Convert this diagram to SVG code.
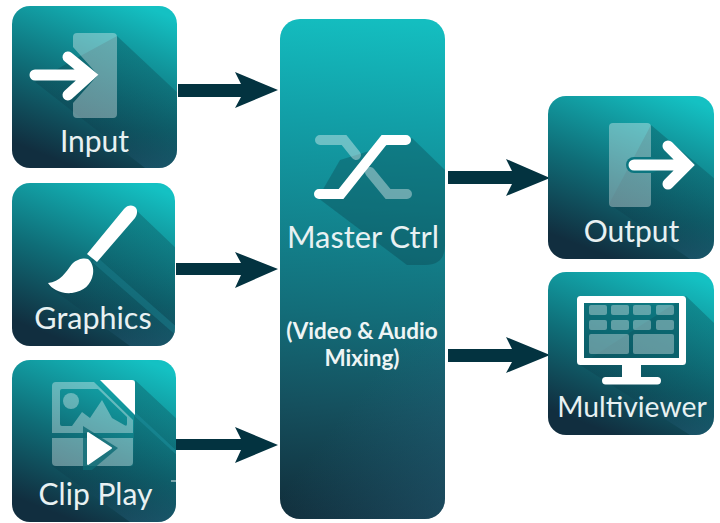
<svg xmlns="http://www.w3.org/2000/svg" width="720" height="523" viewBox="0 0 720 523">
<defs>
<linearGradient id="bg" x1="0.8" y1="0" x2="0.4" y2="1"><stop offset="0" stop-color="#14c1c3"/><stop offset="0.55" stop-color="#0f6e78"/><stop offset="1" stop-color="#112e3f"/></linearGradient>
<linearGradient id="bgm" gradientUnits="userSpaceOnUse" x1="385" y1="19" x2="345" y2="519"><stop offset="0" stop-color="#14bec0"/><stop offset="0.2" stop-color="#12a0a8"/><stop offset="0.6" stop-color="#136c78"/><stop offset="0.78" stop-color="#15505e"/><stop offset="1" stop-color="#112e3b"/></linearGradient>
<linearGradient id="ov" gradientUnits="userSpaceOnUse" x1="330" y1="430" x2="445" y2="519"><stop offset="0" stop-color="#2a6a88" stop-opacity="0"/><stop offset="1" stop-color="#2a6a88" stop-opacity=".4"/></linearGradient>
<linearGradient id="sh" x1="0" y1="0" x2="0" y2="1"><stop offset="0" stop-color="#07303a" stop-opacity="0.28"/><stop offset="0.7" stop-color="#0a3040" stop-opacity="0.2"/><stop offset="1" stop-color="#2a6a88" stop-opacity="0.35"/></linearGradient>
<clipPath id="c1"><rect x="12" y="6" width="165" height="162" rx="18"/></clipPath>
<clipPath id="c2"><rect x="12" y="183" width="163" height="163" rx="18"/></clipPath>
<clipPath id="c3"><rect x="12" y="360" width="164" height="162" rx="18"/></clipPath>
<clipPath id="c4"><rect x="548" y="96" width="166" height="163" rx="18"/></clipPath>
<clipPath id="c5"><rect x="548" y="272" width="166" height="163" rx="18"/></clipPath>
</defs>
<style>
.l{font-family:Lato,"Noto Sans",sans-serif;font-size:30px;fill:#e8f1f2;text-anchor:middle}
.b{font-family:Lato,"Noto Sans",sans-serif;font-size:22.5px;font-weight:700;fill:#eef5f5;text-anchor:middle}
.a{fill:#033340}
.w{fill:none;stroke:#fff;stroke-width:11;stroke-linecap:round;stroke-linejoin:miter}
.g{fill:#fff;fill-opacity:.35}
.s{fill:url(#sh)}
</style>
<g id="connectors">
<path class="a" d="M178 84H241L235 72L278 90L235 108L241 97H178Z"/>
<path class="a" d="M176 263H241L235 252L278 269L235 288L241 275H176Z"/>
<path class="a" d="M176 439H241L235 427L278 445L235 463L241 450H176Z"/>
<path class="a" d="M448 171H512L506 159L550 178L506 196L512 184H448Z"/>
<path class="a" d="M448 349H512L506 337L550 355L506 373L512 362H448Z"/>
</g>
<g id="input">
<rect x="12" y="6" width="165" height="162" rx="18" fill="url(#bg)"/>
<path class="s" clip-path="url(#c1)" d="M117 36L180 95V168H145L35 82L73 60Z"/>
<path class="g" d="M77 33H113Q117 33 117 37V114Q117 118 113 118H77Q73 118 73 114V103L98 75L73 47V37Q73 33 77 33Z"/>
<path class="w" d="M35 75H90M68 57L90 75L68 95"/>
<text class="l" x="94.500" y="152">Input</text>
</g>
<g id="graphics">
<rect x="12" y="183" width="163" height="163" rx="18" fill="url(#bg)"/>
<path class="s" clip-path="url(#c2)" d="M136 210L178 250V346H130L48 286L90 262Z"/>
<path clip-path="url(#c2)" d="M92 262L98 258L178 328V337Z" fill="#1a7c8a" fill-opacity=".55"/>
<path fill="#fff" d="M87 254L124 209C128 204 134 205 136 208C138 211 137 215 135 218L97 262Z"/>
<path fill="#fff" d="M48 283C60 282 66 272 72 264C78 258 85 258 88 259C92 262 94 268 93 274C91 285 84 291 72 293C60 294 52 289 48 283Z"/>
<text class="l" x="93" y="329" style="font-size:30.500px">Graphics</text>
</g>
<g id="clip-play">
<rect x="12" y="360" width="164" height="162" rx="18" fill="url(#bg)"/>
<path class="s" clip-path="url(#c3)" d="M135 380L180 422V522H130L52 466L133 466Z"/>
<path clip-path="url(#c3)" d="M133 410L178 452V456L130 412Z" fill="#1a8c9a" fill-opacity=".6"/>
<path class="g" fill-rule="evenodd" d="M56 382H94L133 420V433H52V386Q52 382 56 382ZM62 389Q60 389 60 391V424Q60 426 62 426H125Q127 426 127 424V417L98 389Z"/>
<path class="g" d="M72 426L82 412L90 418L102 400L112 418L126 426Z"/>
<circle class="g" cx="71" cy="401" r="8"/>
<path class="g" d="M52 438H133V462Q133 466 129 466H56Q52 466 52 462Z"/>
<path d="M83 426L118 448L92 470H83Z" fill="#0d6a74" fill-opacity=".8"/>
<path fill="#fff" stroke="#fff" stroke-width="2" stroke-linejoin="round" d="M88 433L111 448L88 464Z"/>
<path fill="#fff" d="M100 380H132Q135 380 135 383V415Z"/>
<path d="M171 481H176" stroke="#e6eef0" stroke-width="1"/>
<text class="l" x="95.500" y="505">Clip Play</text>
</g>
<g id="master">
<rect x="280" y="19" width="165" height="500" rx="20" fill="url(#bgm)"/>
<rect x="280" y="19" width="165" height="500" rx="20" fill="url(#ov)"/>
<path d="M412 138L445 170V245Q445 265 425 265H407L318 198L340 160Z" fill="#07303a" fill-opacity=".28"/>
<path d="M320 140H344L356 155M370 172L388 194H407" fill="none" stroke="#fff" stroke-opacity=".38" stroke-width="10" stroke-linecap="round"/>
<path d="M319 194H341L384 140H406" fill="none" stroke="#fff" stroke-width="10" stroke-linecap="round"/>
<text class="l" x="363" y="248" style="font-size:30.800px">Master Ctrl</text>
<text class="b" x="362" y="339">(Video &amp; Audio</text>
<text class="b" x="362" y="366">Mixing)</text>
</g>
<g id="output">
<rect x="548" y="96" width="166" height="163" rx="18" fill="url(#bg)"/>
<path class="s" clip-path="url(#c4)" d="M651 125L716 180V259H690L609 204Z"/>
<rect class="g" x="609" y="123" width="42" height="84" rx="4"/>
<path d="M634 165H651" stroke="#0b7680" stroke-width="16" stroke-linecap="round"/>
<path class="w" d="M634 165H684M668 146L687 165L668 184"/>
<text class="l" x="631.500" y="242">Output</text>
</g>
<g id="multiviewer">
<rect x="548" y="272" width="166" height="163" rx="18" fill="url(#bg)"/>
<path class="s" clip-path="url(#c5)" d="M686 296L716 325V435H690L580 365Z"/>
<rect x="580.500" y="299.500" width="102" height="62" fill="#0a5a64" fill-opacity=".55" stroke="#fff" stroke-width="7" stroke-linejoin="round"/>
<g>
<rect class="g" x="589" y="305" width="18" height="10" rx="2"/><rect class="g" x="611" y="305" width="18" height="10" rx="2"/><rect class="g" x="633" y="305" width="18" height="10" rx="2"/><rect class="g" x="656" y="305" width="18" height="10" rx="2"/>
<rect class="g" x="589" y="320" width="18" height="10" rx="2"/><rect class="g" x="611" y="320" width="18" height="10" rx="2"/><rect class="g" x="633" y="320" width="18" height="10" rx="2"/><rect class="g" x="656" y="320" width="18" height="10" rx="2"/>
<rect class="g" x="589" y="334" width="40" height="20" rx="2"/><rect class="g" x="633" y="334" width="41" height="20" rx="2"/>
</g>
<rect x="622" y="364" width="19" height="14" fill="#fff"/>
<rect x="602" y="377" width="59" height="7.500" rx="3.700" fill="#fff"/>
<text class="l" x="632" y="417" style="font-size:28.300px">Multiviewer</text>
</g>
</svg>
